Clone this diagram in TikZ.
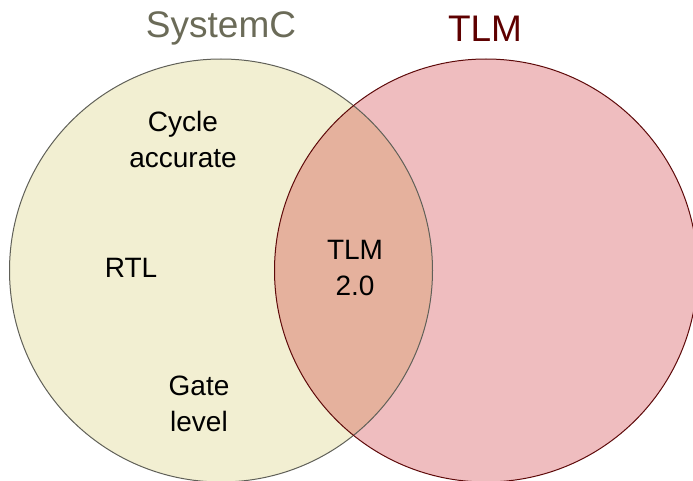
\documentclass[tikz,border=0pt]{standalone}
\usepackage{fontspec}
\setmainfont{Liberation Sans}
\definecolor{scfill}{HTML}{F2EFD2}
\definecolor{scline}{HTML}{606058}
\definecolor{sctext}{HTML}{6B6B58}
\definecolor{tlmfill}{HTML}{EFBDBF}
\definecolor{tlmline}{HTML}{5E0A0A}
\definecolor{tlmtext}{HTML}{5E0000}
\definecolor{lensfill}{HTML}{E5B19D}
\tikzset{
  settitle/.style={font=\fontsize{37}{40}\selectfont, inner sep=0pt, anchor=base},
  % anchor=base sits on the baseline of the last line
  label/.style={font=\fontsize{28}{35.5}\selectfont, align=center, inner sep=0pt, anchor=base, text=black},
}
\begin{document}
\begin{tikzpicture}[x=1pt,y=-1pt]
\useasboundingbox (0,0) rectangle (693,481);
\clip (0,0) rectangle (693,481);
% the two sets
\coordinate (sc) at (221,270.5);
\coordinate (tlm) at (486,270.5);
\fill[scfill] (sc) circle[radius=211.5];
\fill[tlmfill] (tlm) circle[radius=211.5];
\begin{scope}
  \clip (sc) circle[radius=211.5];
  \fill[lensfill] (tlm) circle[radius=211.5];
\end{scope}
\draw[scline, line width=1pt] (sc) circle[radius=211.5];
\draw[tlmline, line width=1pt] (tlm) circle[radius=211.5];
% set titles
\node[settitle, text=sctext] (tsc) at (221,37.7) {SystemC};
\node[settitle, text=tlmtext] (ttlm) at (485,41.7) {TLM};
% members
\node[label] (cyc) at (183,167.5) {Cycle\\accurate};
\node[label] (rtl) at (131,277.7) {RTL};
\node[label] (gate) at (199,431) {Gate\\level};
\node[label] (tlm2) at (355,295) {TLM\\2.0};
\end{tikzpicture}
\end{document}
